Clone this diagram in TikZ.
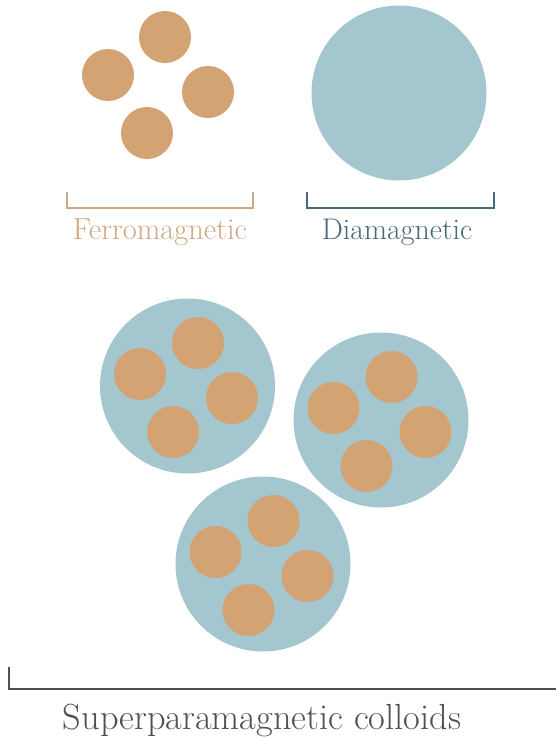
\documentclass[tikz,border=0pt]{standalone}
\usepackage{fontspec}
\definecolor{ferro}{RGB}{212,163,115}
\definecolor{ferrotext}{RGB}{206,168,130}
\definecolor{dia}{RGB}{164,198,206}
\definecolor{diatext}{RGB}{72,104,124}
\definecolor{supertext}{RGB}{80,80,80}
\begin{document}
\begin{tikzpicture}[x=0.3mm, y=-0.3mm,
    particle/.style={fill=ferro},
    shell/.style={fill=dia},
    bracket/.style={line width=1.5pt},
    label/.style={inner sep=0pt, anchor=base}]
    \useasboundingbox (0, 0) rectangle (556, 738);

    % Ferromagnetic
    \fill[particle] (165, 37) circle (26);
    \fill[particle] (108, 75) circle (26);
    \fill[particle] (208, 92) circle (26);
    \fill[particle] (147, 133) circle (26);
    \draw[bracket, ferrotext] (67, 192) -- (67, 208) -- (253, 208) -- (253, 192);
    \node[label, ferrotext, font=\fontsize{26}{28}\selectfont] (ferrolabel) at (160, 239) {Ferromagnetic};

    % Diamagnetic
    \fill[shell] (399, 93) circle (87.5);
    \draw[bracket, diatext] (307, 192) -- (307, 208) -- (494, 208) -- (494, 192);
    \node[label, diatext, font=\fontsize{25.5}{28}\selectfont] (dialabel) at (397, 239) {Diamagnetic};

    % Superparamagnetic colloids
    \foreach \cx/\cy in {187.5/386, 381/420, 263/564} {
        \fill[shell] (\cx, \cy) circle (87.5);
        \fill[particle] (\cx+10.5, \cy-43) circle (26);
        \fill[particle] (\cx-47.5, \cy-12) circle (26);
        \fill[particle] (\cx+44.5, \cy+12) circle (26);
        \fill[particle] (\cx-14.5, \cy+46) circle (26);
    }
    \draw[line width=1.2pt, supertext] (9, 667) -- (9, 689) -- (556, 689);
    \node[label, supertext, font=\fontsize{31}{34}\selectfont] (superlabel) at (262, 729) {Superparamagnetic colloids};
\end{tikzpicture}
\end{document}
